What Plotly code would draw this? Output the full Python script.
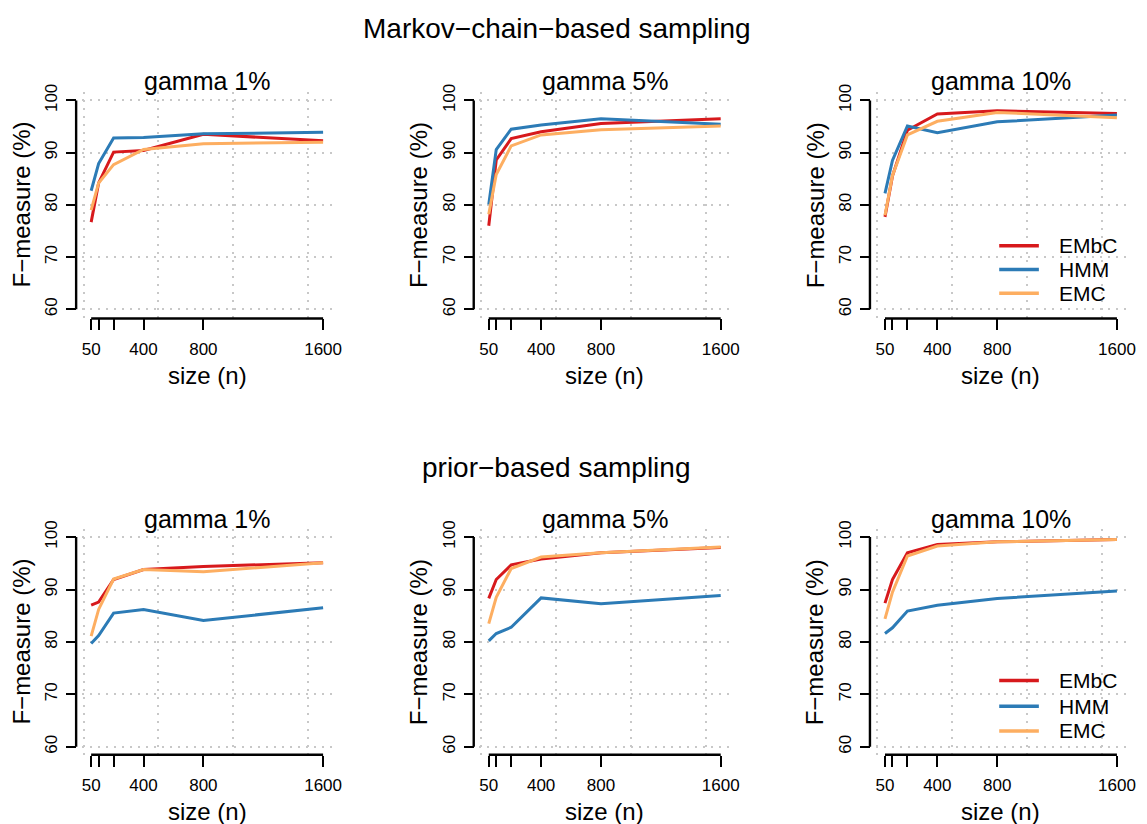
import plotly.graph_objects as go

# ---------------- data ----------------
sizes = [50, 100, 200, 400, 800, 1600]
size_ticktext = ["50", "", "", "400", "800", "1600"]
y_ticks = [60, 70, 80, 90, 100]
series_names = ["EMbC", "HMM", "EMC"]
series_colors = ["#D7191C", "#2C7BB6", "#FDAE61"]
panel_titles = ["gamma 1%", "gamma 5%", "gamma 10%"]
row_titles = ["Markov\u2212chain\u2212based sampling", "prior\u2212based sampling"]

# Markov-chain-based sampling
mc_g1_embc = [76.7, 84.2, 90.1, 90.4, 93.5, 92.3]
mc_g1_hmm = [82.7, 87.9, 92.8, 92.9, 93.6, 93.9]
mc_g1_emc = [79.0, 84.2, 87.7, 90.6, 91.7, 92.0]
mc_g5_embc = [76.0, 88.6, 92.7, 94.0, 95.6, 96.5]
mc_g5_hmm = [80.1, 90.6, 94.5, 95.3, 96.5, 95.45]
mc_g5_emc = [78.2, 85.8, 91.3, 93.4, 94.4, 95.1]
mc_g10_embc = [77.7, 85.5, 94.3, 97.4, 98.0, 97.5]
mc_g10_hmm = [82.2, 88.5, 95.1, 93.8, 95.9, 97.2]
mc_g10_emc = [78.0, 85.6, 93.4, 96.0, 97.7, 96.7]

# prior-based sampling
pr_g1_embc = [87.0, 87.6, 91.9, 93.8, 94.4, 95.1]
pr_g1_hmm = [79.7, 81.2, 85.5, 86.2, 84.1, 86.5]
pr_g1_emc = [81.1, 86.2, 92.0, 93.8, 93.4, 95.1]
pr_g5_embc = [88.3, 91.9, 94.7, 95.8, 97.0, 98.0]
pr_g5_hmm = [80.2, 81.6, 82.8, 88.4, 87.3, 88.85]
pr_g5_emc = [83.5, 88.5, 94.0, 96.2, 97.0, 98.1]
pr_g10_embc = [87.4, 91.9, 97.0, 98.6, 99.1, 99.55]
pr_g10_hmm = [81.6, 82.7, 85.9, 87.0, 88.3, 89.7]
pr_g10_emc = [84.4, 89.5, 96.4, 98.3, 99.1, 99.55]

panels = [
    [mc_g1_embc, mc_g1_hmm, mc_g1_emc],
    [mc_g5_embc, mc_g5_hmm, mc_g5_emc],
    [mc_g10_embc, mc_g10_hmm, mc_g10_emc],
    [pr_g1_embc, pr_g1_hmm, pr_g1_emc],
    [pr_g5_embc, pr_g5_hmm, pr_g5_emc],
    [pr_g10_embc, pr_g10_hmm, pr_g10_emc],
]

# ---------------- layout geometry (pixels) ----------------
W, H = 1147, 824
FONT = "Liberation Sans, Arial, Helvetica, sans-serif"
col_left = [82.6, 483.7, 883.4]
col_width = 252.7
row_top = [84.9, 525.8]
row_bottom = [312.7, 754.5]
xaxis_line_y = [313.5, 754.0]
yaxis_offset = 5.8
xr = [-12, 1662]
yr = [58.4, 101.6]


def px(x):
    return x / W


def py(y):
    return 1 - y / H


fig = go.Figure()
layout = dict(
    width=W, height=H, margin=dict(l=0, r=0, t=0, b=0),
    paper_bgcolor="white", plot_bgcolor="white",
    showlegend=False, font=dict(family=FONT, color="black"),
)
shapes = []
annotations = []

for p in range(6):
    r, c = divmod(p, 3)
    idx = "" if p == 0 else str(p + 1)
    xa, ya = "x" + idx, "y" + idx
    for s in range(3):
        fig.add_trace(go.Scatter(
            x=sizes, y=panels[p][s], mode="lines", name=series_names[s],
            line=dict(color=series_colors[s], width=3),
            xaxis=xa, yaxis=ya, hoverinfo="skip",
        ))
    x0 = col_left[c]
    x1 = x0 + col_width
    y_axis_px = x0 - yaxis_offset
    layout["xaxis" + idx] = dict(
        domain=[px(x0), px(x1)], range=xr, anchor="free",
        position=py(xaxis_line_y[r]),
        tickmode="array", tickvals=sizes, ticktext=size_ticktext,
        ticks="outside", ticklen=11, tickwidth=2.4, tickcolor="black",
        showline=False, showgrid=False, zeroline=False,
        tickfont=dict(size=17, color="black", family=FONT),
        ticklabelstandoff=4,
        minor=dict(tickmode="array", tickvals=[0, 500, 1000, 1500], ticks="",
                   showgrid=True, gridcolor="#C8C8C8", gridwidth=2,
                   griddash="2px,6px"),
    )
    layout["yaxis" + idx] = dict(
        domain=[py(row_bottom[r]), py(row_top[r])], range=yr, anchor="free",
        position=px(y_axis_px),
        tickmode="array", tickvals=y_ticks, ticktext=[str(v) for v in y_ticks],
        ticks="outside", ticklen=10, tickwidth=2.4, tickcolor="black",
        tickangle=-90,
        showline=False, showgrid=True, gridcolor="#C8C8C8", gridwidth=2,
        griddash="2px,6px", zeroline=False,
        tickfont=dict(size=17, color="black", family=FONT),
        ticklabelstandoff=2,
    )
    # axis lines spanning only the tick range (R style)
    shapes.append(dict(type="line", xref=xa, yref="paper",
                       x0=sizes[0], x1=sizes[-1],
                       y0=py(xaxis_line_y[r]), y1=py(xaxis_line_y[r]),
                       line=dict(color="black", width=2.4)))
    shapes.append(dict(type="line", xref="paper", yref=ya,
                       x0=px(y_axis_px), x1=px(y_axis_px),
                       y0=y_ticks[0], y1=y_ticks[-1],
                       line=dict(color="black", width=2.4)))
    cx = (x0 + x1) / 2
    # panel title
    annotations.append(dict(text=panel_titles[c], xref="paper", yref="paper",
                            x=px(cx), y=py([74, 516][r]), xanchor="center",
                            yanchor="middle", showarrow=False,
                            font=dict(size=25, color="black", family=FONT)))
    # x title
    annotations.append(dict(text="size (n)", xref="paper", yref="paper",
                            x=px(cx), y=py([371, 811][r]), xanchor="center",
                            yanchor="middle", showarrow=False,
                            font=dict(size=24, color="black", family=FONT)))
    # y title
    annotations.append(dict(text="F\u2212measure (%)", xref="paper", yref="paper",
                            x=px(y_axis_px - 55), y=py((row_top[r] + row_bottom[r]) / 2),
                            xanchor="center", yanchor="middle", textangle=-90,
                            showarrow=False,
                            font=dict(size=24, color="black", family=FONT)))

# row titles
for r in range(2):
    annotations.append(dict(text=row_titles[r], xref="paper", yref="paper",
                            x=px(561.5), y=py([21, 464][r]), xanchor="center",
                            yanchor="middle", showarrow=False,
                            font=dict(size=28, color="black", family=FONT)))

# legends (top-right and bottom-right panels)
legend_rows = [[240, 264, 288], [679, 705, 730]]
for r in range(2):
    for s in range(3):
        yy = py(legend_rows[r][s])
        shapes.append(dict(type="line", xref="paper", yref="paper",
                           x0=px(1008), x1=px(1048), y0=yy, y1=yy,
                           line=dict(color=series_colors[s], width=3.5)))
        annotations.append(dict(text=series_names[s], xref="paper", yref="paper",
                                x=px(1066), y=yy, xanchor="left", yanchor="middle",
                                showarrow=False,
                                font=dict(size=21, color="black", family=FONT)))

layout["shapes"] = shapes
layout["annotations"] = annotations
fig.update_layout(**layout)
fig.write_html("out.html")
